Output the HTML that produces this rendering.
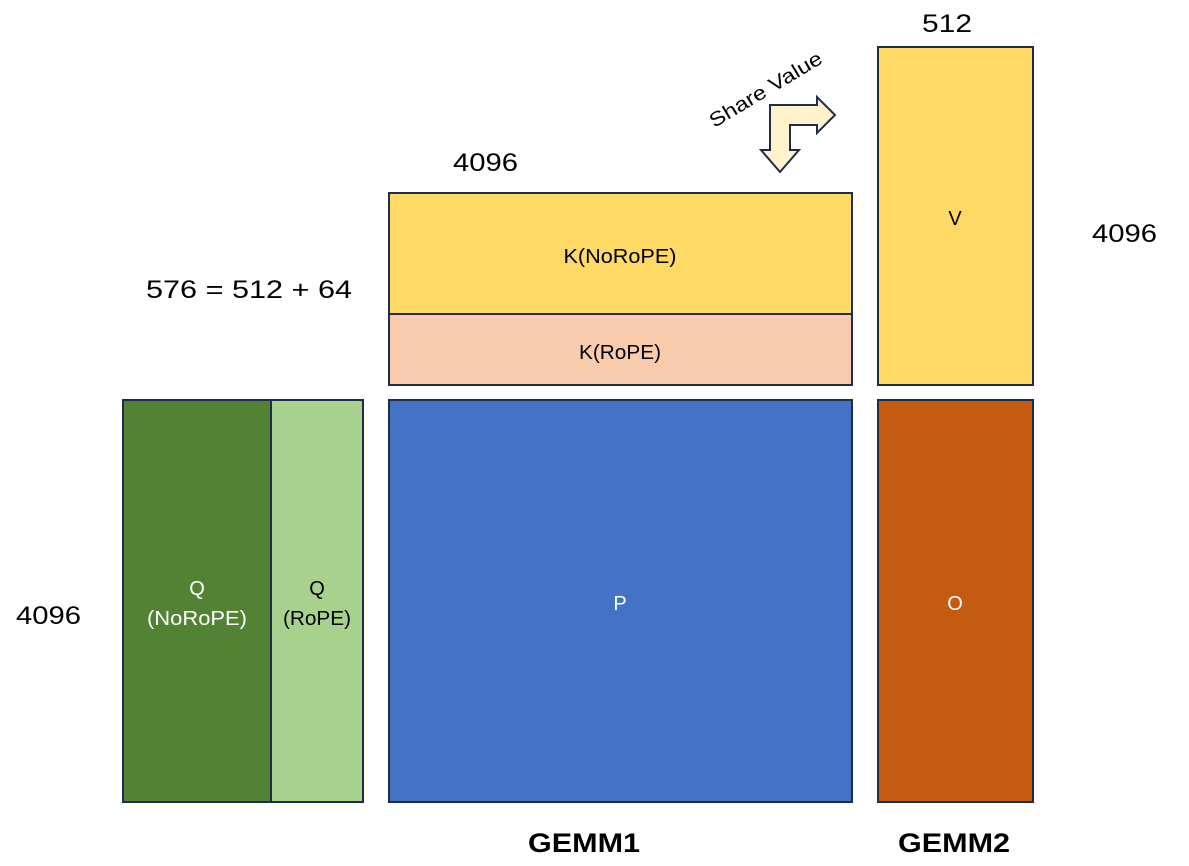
<!DOCTYPE html>
<html><head><style>
body{margin:0;background:#fff;}
svg text{font-family:"Liberation Sans","DejaVu Sans",sans-serif;}
</style></head><body>
<svg width="1189" height="861" xmlns="http://www.w3.org/2000/svg">
<g stroke="#1f2d4b" stroke-width="2">
<rect x="389" y="193" width="463" height="121" fill="#ffd966"/>
<rect x="389" y="314" width="463" height="71" fill="#f8cbad"/>
<rect x="878" y="47" width="155" height="338" fill="#ffd966"/>
<rect x="123" y="400" width="148" height="402" fill="#548235"/>
<rect x="271" y="400" width="92" height="402" fill="#a9d18e"/>
<rect x="389" y="400" width="463" height="402" fill="#4472c4"/>
<rect x="878" y="400" width="155" height="402" fill="#c55a11"/>
<polygon points="770,105 817,105 817,97 835,115 817,133 817,125 790,125 790,150 799,150 780,172 761,150 770,150" fill="#fff2cc"/>
</g>
<g font-size="25" fill="#000">
<text x="453" y="171" textLength="65" lengthAdjust="spacingAndGlyphs">4096</text>
<text x="146" y="298" textLength="206" lengthAdjust="spacingAndGlyphs">576 = 512 + 64</text>
<text x="922" y="32" textLength="50" lengthAdjust="spacingAndGlyphs">512</text>
<text x="1092" y="242" textLength="65" lengthAdjust="spacingAndGlyphs">4096</text>
<text x="16" y="624" textLength="65" lengthAdjust="spacingAndGlyphs">4096</text>
</g>
<g font-size="20" text-anchor="middle">
<text x="620" y="263" fill="#000" textLength="113" lengthAdjust="spacingAndGlyphs">K(NoRoPE)</text>
<text x="620" y="359" fill="#000" textLength="82" lengthAdjust="spacingAndGlyphs">K(RoPE)</text>
<text x="955" y="225" fill="#000">V</text>
<text x="197" y="595" fill="#fff">Q</text>
<text x="197" y="625" fill="#fff" textLength="100" lengthAdjust="spacingAndGlyphs">(NoRoPE)</text>
<text x="317" y="595" fill="#000">Q</text>
<text x="317" y="625" fill="#000" textLength="68" lengthAdjust="spacingAndGlyphs">(RoPE)</text>
<text x="620" y="610" fill="#fff">P</text>
<text x="955" y="610" fill="#fff">O</text>
</g>
<text x="766" y="96" font-size="20" text-anchor="middle" textLength="128" lengthAdjust="spacingAndGlyphs" transform="rotate(-31 766 90)">Share Value</text>
<g font-size="27" font-weight="bold" text-anchor="middle">
<text x="584" y="852" textLength="112" lengthAdjust="spacingAndGlyphs">GEMM1</text>
<text x="954" y="852" textLength="112" lengthAdjust="spacingAndGlyphs">GEMM2</text>
</g>
</svg>
</body></html>
